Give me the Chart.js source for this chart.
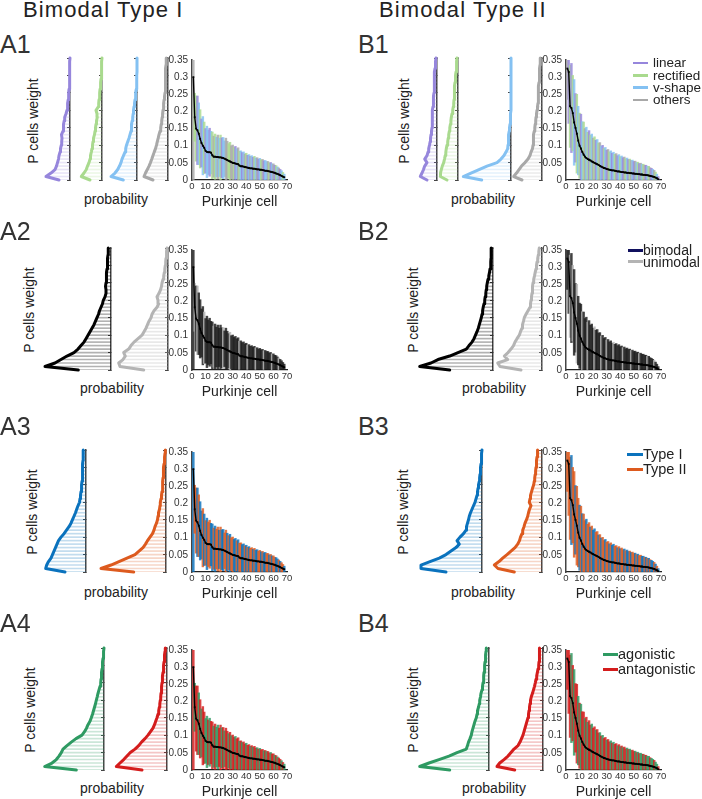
<!DOCTYPE html>
<html>
<head>
<meta charset="utf-8">
<script src="https://cdn.jsdelivr.net/npm/chart.js@4.4.1/dist/chart.umd.min.js"></script>
<style>
  body { margin: 0; background: #fff; }
  #fig { position: relative; width: 702px; height: 799px; overflow: hidden;
         font-family: "Liberation Sans", Arial, sans-serif; color: #222; }
  #fig canvas { position: absolute; }
  .txt { position: absolute; white-space: nowrap; line-height: 1; }
</style>
</head>
<body>
<div id="fig"></div>
<script>
// weight bins of the rotated histograms (P cell weight)
const weightBins = [0, 0.01, 0.02, 0.03, 0.04, 0.05, 0.06, 0.07, 0.08, 0.09, 0.1, 0.11,
  0.12, 0.13, 0.14, 0.15, 0.16, 0.17, 0.18, 0.19, 0.2, 0.21, 0.22, 0.23,
  0.24, 0.25, 0.26, 0.27, 0.28, 0.29, 0.3, 0.31, 0.32, 0.33, 0.34, 0.35];

// histogram heights (probability, arbitrary units) per bin
const probA1Linear = [11, 24, 19, 15, 13.5, 12.5, 11.5, 11, 10, 9.5, 8.7, 8.3,
  8, 8.5, 7, 6.7, 6.3, 5.8, 5.3, 4, 3, 2.2, 2.6, 1.8,
  1.5, 1.2, 1, 0.8, 0.6, 0.4, 0.3, 0.3, 0.2, 0.2, 0.1, 0];
const probA1Rectified = [12, 20.7, 18, 15.7, 14.5, 13, 12, 11.5, 10.7, 10, 9.5, 9,
  8.5, 7.5, 7, 6.5, 6, 5.5, 4.7, 5, 6, 3.7, 3.3, 3,
  2.5, 2.2, 2, 1.5, 1.3, 1, 0.8, 0.6, 0.4, 0.2, 0.1, 0];
const probA1VShape = [13.7, 26, 22, 19.3, 17.5, 16, 15, 13.5, 12, 11.3, 10.5, 9.3,
  8, 7, 6, 5.8, 5.2, 4.8, 4.3, 3.8, 3.5, 3, 2.5, 2,
  1.5, 1.2, 0.8, 0.5, 0.3, 0.2, 0.1, 0, 0, 0, 0, 0];
const probA1Others = [15, 24, 22.5, 20.7, 19, 17.5, 16.2, 15, 13.8, 12.5, 11.5, 10.7,
  9.8, 9, 8, 7.3, 6.8, 6.3, 5.8, 5.4, 5, 4.6, 4.2, 3.9,
  3.5, 3, 2.9, 2.7, 2.6, 2.5, 2.4, 2.3, 2.1, 2, 1.8, 1.7];
const probB1Linear = [10, 16.7, 15, 13.5, 12.3, 10, 12.3, 10, 9, 8.3, 7.5, 6.8,
  6.5, 6, 5.5, 5, 5, 4.8, 4.7, 4.5, 4.3, 4, 3.8, 3.5,
  3.3, 3, 3, 2.8, 2.7, 2.5, 2.4, 2.3, 2, 1.7, 1.3, 1];
const probB1Rectified = [11, 17.7, 17.5, 16.7, 15.7, 14.3, 13.5, 12.8, 12.2, 11.7, 11, 10.3,
  9.8, 9.3, 8.7, 8.2, 7.6, 7.1, 6.7, 6, 5.3, 4.7, 4.3, 4,
  3.8, 3.6, 3.4, 3.3, 3, 2.7, 2.3, 2, 1.7, 1.4, 1.2, 1];
const probB1VShape = [29.3, 47.7, 40, 32, 24, 14, 10, 7, 5, 3.3, 3, 2.7,
  2.5, 2.2, 1.8, 1.5, 1, 0.8, 0.5, 0.3, 0, 0, 0, 0,
  0, 0, 0, 0, 0, 0, 0, 0, 0, 0, 0, 0];
const probB1Others = [20, 28.3, 25.5, 23, 20.5, 17, 14, 12, 11, 9.5, 9, 8.8,
  8.5, 8.3, 7.8, 7.2, 6.8, 6.3, 6, 5.5, 5, 4.5, 4, 3.9,
  3.7, 3.6, 3.5, 3.3, 3, 2.8, 2.6, 2.4, 2.2, 2, 1.8, 1.7];
const probA2Bimodal = [32.7, 66, 56, 50, 44, 37, 33, 30, 27, 25, 23, 21,
  19, 17, 15.5, 14, 12.5, 11.5, 10, 8.5, 7.7, 6, 5, 5,
  5.5, 5, 4.8, 4.5, 4.3, 4, 3.7, 3.5, 3.3, 3, 2.8, 2.7];
const probA2Unimodal = [24.3, 48, 49.3, 45, 42.7, 44.3, 39.3, 37, 34, 30, 26, 24,
  22, 20.5, 19, 17, 16, 14, 11, 9.3, 10, 11, 9, 7.5,
  6.5, 6, 5, 4.3, 3.7, 3.2, 2.7, 2.3, 2, 1.6, 1.3, 1];
const probB2Bimodal = [43.3, 73.3, 62, 55, 43.3, 35, 26.7, 24, 21, 19, 17.5, 16,
  14.7, 13.7, 12.7, 11.7, 11, 10.4, 9.8, 9, 8.3, 7.8, 7.2, 6.8,
  6.3, 5.7, 5, 4.2, 3.5, 3, 2.3, 2.2, 2, 2, 1.8, 1.7];
const probB2Unimodal = [21, 42, 44.3, 34.3, 37.7, 34, 31, 28.5, 27, 25, 22.7, 21.5,
  20, 19.5, 18.5, 17.7, 16, 14, 12, 11.5, 11, 10.5, 10, 9.7,
  9.3, 9, 8.3, 7.5, 6.8, 6, 5.5, 5, 4.3, 3.7, 3.2, 2.7];
const probA3TypeI = [21, 40.3, 39.3, 37.5, 35, 33.5, 32, 30.5, 29, 27.5, 25, 22,
  19.5, 17, 15, 13.5, 12, 10.5, 9.3, 8, 6.5, 6, 5.5, 5,
  4.6, 4.3, 4, 3.8, 3.6, 3.4, 3.3, 3.2, 3, 2.9, 2.8, 2.7];
const probA3TypeII = [32.3, 65, 55, 47, 39, 31, 27, 23, 20.5, 18.5, 16, 13.5,
  12, 11, 9.5, 8.5, 8, 7.5, 6.5, 6, 5.7, 5, 4.5, 4,
  3.7, 3.3, 3.1, 3, 2.8, 2.5, 2.3, 2, 1.6, 1.3, 1, 0.7];
const probB3TypeI = [36, 61, 61, 52, 42.7, 36, 31, 26, 22.7, 25, 22, 18.5,
  16, 15.5, 14.5, 13.5, 12.7, 11.5, 10, 8.5, 7, 6, 5, 4.5,
  4, 3.5, 2.7, 2.4, 2, 1.7, 1.3, 1, 0.7, 0.5, 0.2, 0];
const probB3TypeII = [27.7, 44, 47.7, 43, 39.3, 35, 31, 27, 24.3, 22.5, 21.5, 20,
  19.3, 18, 17, 15.5, 14.3, 13.5, 12.5, 11, 12.7, 12, 11.5, 10.5,
  9.5, 8.3, 7.8, 7.3, 6.8, 6.4, 6, 5.7, 5.3, 5, 4.6, 4.3];
const probA4Agonistic = [27.7, 59.3, 52, 47.7, 45, 42.7, 41, 37, 32.7, 28, 22, 19.5,
  17.5, 16, 14, 12.7, 11.5, 10.5, 9.5, 8.5, 7.7, 6.8, 6, 5,
  4, 3.3, 3, 2.7, 2.3, 2, 1.7, 1.3, 1, 0.6, 0.3, 0];
const probA4Antagonistic = [25, 50.7, 47, 43.3, 40, 36.7, 32, 28.3, 25.5, 22, 19, 16.5,
  14, 12.5, 11.3, 10, 9, 8.3, 7.7, 7.2, 6.7, 6.3, 6, 5.6,
  5.3, 5, 4.7, 4.4, 4, 3.6, 3.3, 3, 2.7, 2.3, 2, 1.7];
const probB4Agonistic = [39.3, 69.3, 60, 50, 40, 32, 22.7, 21.5, 20.5, 19, 17.7, 17,
  16, 15, 14, 12.7, 12, 11.5, 10.5, 9.7, 9.3, 8.5, 8, 7,
  6.5, 6, 5.5, 5.2, 5, 4.5, 4.3, 4, 3.6, 3.3, 3, 2.7];
const probB4Antagonistic = [28.3, 46, 43.3, 39, 35, 32, 29, 25, 23, 21.5, 20, 19,
  18, 17, 16, 15, 14.5, 14, 13.5, 13, 12.5, 11.7, 10.5, 9.5,
  8.5, 7.7, 7, 6.3, 5.6, 5, 4.3, 4, 3.8, 3.6, 3.4, 3.3];

// mean weight and spread for each Purkinje cell (sorted)
const meanA = [0.30, 0.183, 0.15, 0.145, 0.135, 0.12, 0.108, 0.1, 0.094, 0.085,
  0.082, 0.081, 0.081, 0.08, 0.072, 0.068, 0.068, 0.067, 0.067, 0.066,
  0.066, 0.065, 0.064, 0.062, 0.06, 0.058, 0.056, 0.054, 0.052, 0.05,
  0.049, 0.048, 0.047, 0.046, 0.042, 0.04, 0.04, 0.039, 0.038, 0.037,
  0.036, 0.035, 0.034, 0.034, 0.033, 0.033, 0.032, 0.031, 0.031, 0.03,
  0.03, 0.029, 0.028, 0.027, 0.027, 0.026, 0.025, 0.024, 0.023, 0.022,
  0.021, 0.019, 0.018, 0.016, 0.014, 0.012, 0.01, 0.008];
const sdA = [0.31, 0.07, 0.095, 0.1, 0.09, 0.085, 0.07, 0.085, 0.075, 0.065,
  0.075, 0.065, 0.07, 0.062, 0.068, 0.06, 0.066, 0.058, 0.064, 0.056,
  0.065, 0.058, 0.06, 0.052, 0.062, 0.055, 0.05, 0.056, 0.048, 0.052,
  0.046, 0.05, 0.044, 0.048, 0.042, 0.045, 0.04, 0.043, 0.038, 0.041,
  0.036, 0.039, 0.035, 0.037, 0.033, 0.036, 0.032, 0.034, 0.03, 0.033,
  0.029, 0.031, 0.028, 0.03, 0.027, 0.028, 0.025, 0.027, 0.024, 0.025,
  0.022, 0.023, 0.02, 0.019, 0.017, 0.015, 0.012, 0.009];
const meanB = [0.325, 0.315, 0.215, 0.21, 0.195, 0.168, 0.152, 0.135, 0.115, 0.1,
  0.092, 0.082, 0.074, 0.068, 0.064, 0.061, 0.059, 0.057, 0.054, 0.052,
  0.05, 0.048, 0.046, 0.044, 0.041, 0.039, 0.037, 0.035, 0.034, 0.032,
  0.031, 0.03, 0.029, 0.028, 0.028, 0.027, 0.026, 0.025, 0.025, 0.024,
  0.023, 0.023, 0.022, 0.022, 0.021, 0.021, 0.02, 0.02, 0.019, 0.019,
  0.018, 0.018, 0.017, 0.017, 0.016, 0.016, 0.015, 0.015, 0.014, 0.014,
  0.013, 0.012, 0.011, 0.01, 0.009, 0.007, 0.005, 0.002];
const sdB = [0.09, 0.15, 0.12, 0.13, 0.11, 0.125, 0.1, 0.115, 0.1, 0.095,
  0.1, 0.088, 0.095, 0.082, 0.09, 0.078, 0.085, 0.074, 0.08, 0.07,
  0.076, 0.068, 0.072, 0.064, 0.068, 0.06, 0.064, 0.057, 0.061, 0.055,
  0.058, 0.052, 0.056, 0.05, 0.053, 0.048, 0.051, 0.046, 0.049, 0.044,
  0.047, 0.042, 0.045, 0.04, 0.043, 0.039, 0.041, 0.037, 0.039, 0.035,
  0.037, 0.033, 0.035, 0.031, 0.033, 0.03, 0.031, 0.028, 0.029, 0.026,
  0.027, 0.024, 0.023, 0.021, 0.019, 0.016, 0.012, 0.008];

// category of each cell (index into the panel's names)
const catA1 = [3,1,1,0,2,1,0,2,1,0, 2,2,0,2,1,3,1,2,3,2, 1,0,2,2,3,3,1,1,3,3, 1,0,2,3,1,2,0,2,3,1,
  0,2,3,2,0,1,2,3,0,2, 1,3,0,2,2,3,1,0,2,3, 0,1,2,3,0,2,1,2];
const catB1 = [3,0,1,0,1,2,0,1,2,1, 0,2,1,3,2,1,0,1,2,3, 1,0,2,1,3,2,0,1,2,0, 3,1,2,0,2,1,3,0,2,1,
  2,0,3,1,2,0,1,3,2,0, 3,2,1,0,3,2,1,3,0,2, 1,3,0,2,3,1,2,0];
const catA2 = [0,1,0,1,0,0,0,0,1,0, 0,0,0,0,0,1,0,0,0,0, 0,0,1,0,0,0,0,1,0,0, 0,0,0,0,1,0,0,0,0,0,
  1,0,0,0,0,0,1,0,0,0, 0,0,1,0,0,0,0,0,1,0, 0,0,0,1,0,0,0,0];
const catB2 = [0,0,1,0,1,0,0,1,0,0, 0,1,0,0,0,1,0,0,0,0, 1,0,0,0,0,1,0,0,0,1, 0,0,0,0,1,0,0,0,0,0,
  0,1,0,0,0,0,0,1,0,0, 0,0,0,1,0,0,0,0,0,1, 0,0,0,0,1,0,0,0];
const catA3 = [0,1,1,0,1,0,0,1,0,1, 0,1,1,0,0,1,0,1,1,0, 1,0,0,1,1,0,1,0,1,1, 0,0,1,0,1,1,0,0,1,0,
  1,0,1,1,0,1,0,0,1,1, 0,1,0,0,1,1,0,1,0,1, 1,0,0,1,0,1,1,0];
const catB3 = [1,1,1,0,1,1,0,1,1,0, 1,0,1,1,0,1,1,0,1,0, 0,1,1,0,1,0,1,1,0,1, 1,0,1,0,0,1,1,0,1,0,
  1,1,0,1,0,0,1,0,1,1, 0,1,0,1,1,0,0,1,0,1, 0,1,0,0,1,0,1,0];
const catA4 = [1,0,1,1,0,1,0,1,1,0, 0,1,0,1,1,0,1,0,0,1, 1,0,1,0,1,1,0,1,0,1, 1,0,1,1,0,1,0,1,1,0,
  1,1,0,1,0,1,1,0,1,0, 1,1,0,1,0,1,1,0,1,1, 0,1,0,1,1,0,1,0];
const catB4 = [1,1,1,0,1,0,1,1,0,1, 0,1,1,0,1,0,1,1,0,1, 1,0,1,1,0,1,0,1,1,0, 1,1,0,1,0,1,1,0,1,0,
  1,0,1,1,0,1,0,0,1,1, 0,1,0,1,0,0,1,0,1,0, 0,1,0,0,1,0,0,1];

const shapeNames = ["linear", "rectified", "v-shape", "others"];
const modalNames = ["bimodal", "unimodal"];
const typeNames = ["Type I", "Type II"];
const actionNames = ["agonistic", "antagonistic"];

// styles
const STYLES = {
  shape: { line: ["#9686dc", "#a9da8e", "#84c1f2", "#a8a8a8"], bar: ["#9686dc", "#a9da8e", "#84c1f2", "#a8a8a8"],
    legend: ["#9686dc", "#a9da8e", "#84c1f2", "#a8a8a8"], shade: 0.22 },
  modal: { line: ["#000000", "#b4b4b4"], bar: ["#1c1c1c", "#b4b4b4"], legend: ["#10105e", "#b4b4b4"], shade: 0.3 },
  type: { line: ["#0a72bd", "#dd5a1e"], bar: ["#0a72bd", "#dd5a1e"], legend: ["#0a72bd", "#dd5a1e"], shade: 0.25 },
  action: { line: ["#2e9a62", "#d41c1c"], bar: ["#2e9a62", "#d41c1c"], legend: ["#2e9a62", "#d41c1c"], shade: 0.25 }
};

Chart.defaults.font.family = '"Liberation Sans", Arial, sans-serif';
Chart.defaults.color = "#333";
Chart.defaults.animation = false;
Chart.defaults.responsive = false;
Chart.defaults.events = [];
Chart.defaults.plugins.legend.display = false;
Chart.defaults.plugins.tooltip.enabled = false;

const fig = document.getElementById("fig");
const PH = 122, PW = 95, DIST_W = 80;
const rowTops = [58, 248, 450, 648];

function rgba(hex, a) {
  const n = parseInt(hex.slice(1), 16);
  return `rgba(${n >> 16}, ${(n >> 8) & 255}, ${n & 255}, ${a})`;
}

function addCanvas(left, top, w, h) {
  const c = document.createElement("canvas");
  c.width = w; c.height = h;
  c.style.left = left + "px"; c.style.top = top + "px";
  c.style.width = w + "px"; c.style.height = h + "px";
  fig.appendChild(c);
  return c;
}

function addText(text, x, y, size, extra = "") {
  const el = document.createElement("div");
  el.className = "txt";
  el.textContent = text;
  el.style.cssText += `left:${x}px;top:${y}px;font-size:${size}px;${extra}`;
  fig.appendChild(el);
  return el;
}

function drawDist(axisX, top, probs, color, shade) {
  const pad = 3;
  const canvas = addCanvas(axisX - DIST_W - pad, top - pad, DIST_W + pad + 6, PH + 2 * pad);
  const points = probs.map((p, i) => ({ x: p, y: weightBins[i] }));
  new Chart(canvas, {
    type: "bar",
    data: { datasets: [
      { type: "line", indexAxis: "y", data: points, borderColor: color, borderWidth: 3, pointRadius: 0,
        clip: false, borderJoinStyle: "round", borderCapStyle: "round", order: 0 },
      { type: "bar", indexAxis: "y", data: points, backgroundColor: rgba(color, shade), barThickness: 1, order: 1 }
    ] },
    options: {
      indexAxis: "y",
      layout: { padding: { left: pad, top: pad, bottom: pad, right: 0 } },
      scales: {
        x: { type: "linear", display: false, reverse: true, min: 0, max: DIST_W, offset: false },
        y: { type: "linear", position: "right", min: 0, max: 0.35, offset: false,
          ticks: { display: false, stepSize: 0.05 },
          grid: { drawOnChartArea: false, tickLength: -3, color: "#444", offset: false },
          border: { color: "#444", width: 1.5 },
          afterFit: (scale) => { scale.width = 6; } }
      }
    }
  });
}

function drawMain(left, top, mean, sd, cats, barColors) {
  const YW = 34, PT = 8, PR = 10, XH = 32;
  const canvas = addCanvas(left - YW, top - PT, YW + PW + PR, PT + PH + XH);
  new Chart(canvas, {
    type: "bar",
    data: { datasets: [
      { type: "line", data: mean.map((m, i) => ({ x: i + 1, y: m })), borderColor: "#000", borderWidth: 1.4,
        pointStyle: "rect", pointRadius: 1.3, pointBorderWidth: 0, pointBackgroundColor: "#000", order: 0 },
      { type: "bar", data: mean.map((m, i) => ({ x: i + 1, y: [m - sd[i], m + sd[i]] })),
        backgroundColor: cats.map((c) => rgba(barColors[c], 0.82)), barThickness: 1.8, order: 1 }
    ] },
    options: {
      layout: { padding: { left: 0, top: PT, right: PR, bottom: 0 } },
      scales: {
        x: { type: "linear", min: 0, max: 70, offset: false,
          ticks: { stepSize: 10, autoSkip: false, maxRotation: 0, padding: 1, font: { size: 9.5 }, color: "#333" },
          grid: { drawOnChartArea: false, drawTicks: false, offset: false },
          border: { color: "#222", width: 1.3 },
          title: { display: true, text: "Purkinje cell", font: { size: 14 }, color: "#222", padding: { top: 0, bottom: 1 } },
          afterFit: (scale) => { scale.height = XH; } },
        y: { type: "linear", min: 0, max: 0.35,
          ticks: { stepSize: 0.05, padding: 4, font: { size: 10 }, color: "#333",
            callback: (v) => String(+v.toFixed(2)) },
          grid: { drawOnChartArea: false, drawTicks: false },
          border: { color: "#444", width: 1.5 },
          afterFit: (scale) => { scale.width = YW; } }
      }
    }
  });
}

function drawLegend(names, colors, x, y, rowH, lineW, lineH, gap, size) {
  names.forEach((name, i) => {
    const row = document.createElement("div");
    row.style.cssText = `position:absolute;left:${x}px;top:${y + i * rowH - rowH / 2}px;height:${rowH}px;` +
      `display:flex;align-items:center;font-size:${size}px;line-height:1;white-space:nowrap;`;
    row.innerHTML = `<span style="display:inline-block;width:${lineW}px;height:${lineH}px;background:${colors[i]};margin-right:${gap}px"></span>`;
    row.appendChild(document.createTextNode(name));
    fig.appendChild(row);
  });
}

const panels = [
  { id: "A1", lx: 0, row: 0, main: 192, mean: meanA, sd: sdA, cats: catA1, style: "shape", names: shapeNames,
    dists: [[70, probA1Linear, 0], [102, probA1Rectified, 1], [137, probA1VShape, 2], [168, probA1Others, 3]],
    ylab: [33, 121], prob: [116, 199] },
  { id: "A2", lx: 0, row: 1, main: 192, mean: meanA, sd: sdA, cats: catA2, style: "modal", names: modalNames,
    dists: [[111, probA2Bimodal, 0], [168, probA2Unimodal, 1]], ylab: [29, 310], prob: [112, 388] },
  { id: "A3", lx: 0, row: 2, main: 192, mean: meanA, sd: sdA, cats: catA3, style: "type", names: typeNames,
    dists: [[86, probA3TypeI, 0], [166, probA3TypeII, 1]], ylab: [32, 512], prob: [116, 592] },
  { id: "A4", lx: 0, row: 3, main: 192, mean: meanA, sd: sdA, cats: catA4, style: "action", names: actionNames,
    dists: [[104, probA4Agonistic, 0], [167, probA4Antagonistic, 1]], ylab: [30, 710], prob: [112, 788] },
  { id: "B1", lx: 358, row: 0, main: 566, mean: meanB, sd: sdB, cats: catB1, style: "shape", names: shapeNames,
    dists: [[437, probB1Linear, 0], [458, probB1Rectified, 1], [511, probB1VShape, 2], [542, probB1Others, 3]],
    ylab: [404, 121], prob: [483, 199], legend: [633, 63, 12.3, 15, 2.5, 5, 13.5] },
  { id: "B2", lx: 358, row: 1, main: 566, mean: meanB, sd: sdB, cats: catB2, style: "modal", names: modalNames,
    dists: [[493, probB2Bimodal, 0], [542, probB2Unimodal, 1]], ylab: [413, 310], prob: [494, 388],
    legend: [628, 250, 11.5, 15, 3, 0, 14] },
  { id: "B3", lx: 358, row: 2, main: 566, mean: meanB, sd: sdB, cats: catB3, style: "type", names: typeNames,
    dists: [[482, probB3TypeI, 0], [542, probB3TypeII, 1]], ylab: [403, 512], prob: [483, 592],
    legend: [627, 454, 15, 16, 3, 0, 14.5] },
  { id: "B4", lx: 358, row: 3, main: 566, mean: meanB, sd: sdB, cats: catB4, style: "action", names: actionNames,
    dists: [[489, probB4Agonistic, 0], [543, probB4Antagonistic, 1]], ylab: [413, 710], prob: [494, 788],
    legend: [603, 654, 15.5, 15, 3, 0, 14.5] }
];
const labelTops = [32, 219, 414, 611];

addText("Bimodal Type I", 23, -1.3, 22, "letter-spacing:1.1px;");
addText("Bimodal Type II", 379, -1.3, 22, "letter-spacing:1.1px;");

panels.forEach((p) => {
  const style = STYLES[p.style];
  const top = rowTops[p.row];
  addText(p.id, p.lx, labelTops[p.row], 25, "color:#333;");
  addText("P cells weight", p.ylab[0], p.ylab[1], 14, "transform:translate(-50%,-50%) rotate(-90deg);");
  addText("probability", p.prob[0], p.prob[1], 14, "transform:translate(-50%,-50%);");
  p.dists.forEach(([axisX, probs, c]) => drawDist(axisX, top, probs, style.line[c], style.shade));
  drawMain(p.main, top, p.mean, p.sd, p.cats, style.bar);
  if (p.legend) {
    const [x, y, rowH, lineW, lineH, gap, size] = p.legend;
    drawLegend(p.names, style.legend, x, y, rowH, lineW, lineH, gap, size);
  }
});
</script>
</body>
</html>
